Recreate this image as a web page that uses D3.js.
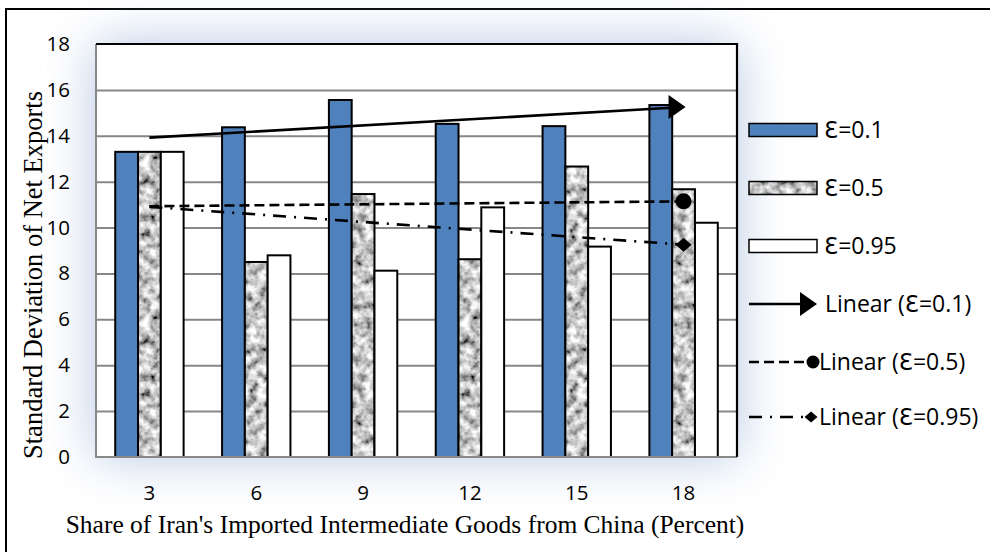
<!DOCTYPE html>
<html><head><meta charset="utf-8">
<script src="https://cdn.jsdelivr.net/npm/d3@7"></script>
<style>body{margin:0;background:#fff}svg{display:block}</style>
</head><body>
<svg id="c" width="990" height="552"></svg>
<script>
const categories = ["3","6","9","12","15","18"];
const seriesNames = ["Ɛ=0.1","Ɛ=0.5","Ɛ=0.95"];
const eps01 = [13.3, 14.37, 15.56, 14.52, 14.42, 15.34];
const eps05 = [13.3, 8.5, 11.46, 8.62, 12.66, 11.67];
const eps095 = [13.3, 8.79, 8.12, 10.88, 9.17, 10.21];
const yTicks = [0,2,4,6,8,10,12,14,16,18];
const trendNames = ["Linear (Ɛ=0.1)","Linear (Ɛ=0.5)","Linear (Ɛ=0.95)"];
const xTitle = "Share of Iran's Imported Intermediate Goods from China (Percent)";
const yTitle = "Standard Deviation of Net Exports";

const series = [eps01, eps05, eps095];
const svg = d3.select("#c");
const M = {l:96, r:737, t:44, b:457};
const defs = svg.append("defs");

// glow
const glow = defs.append("filter").attr("id","glow").attr("x","-40%").attr("y","-40%").attr("width","180%").attr("height","180%");
glow.append("feGaussianBlur").attr("stdDeviation",26);
// granite texture
const tex = defs.append("filter").attr("id","noise").attr("filterUnits","userSpaceOnUse")
  .attr("x",0).attr("y",0).attr("width",160).attr("height",160);
tex.append("feTurbulence").attr("type","fractalNoise").attr("baseFrequency","0.11").attr("numOctaves",3).attr("seed",7).attr("stitchTiles","stitch");
tex.append("feColorMatrix").attr("type","matrix")
  .attr("values","1.8 0 0 0 -0.33  1.8 0 0 0 -0.33  1.8 0 0 0 -0.33  0 0 0 0 1");
const pat = defs.append("pattern").attr("id","granite").attr("patternUnits","userSpaceOnUse")
  .attr("width",160).attr("height",160);
pat.append("rect").attr("width",160).attr("height",160).attr("filter","url(#noise)");

// outer border
svg.append("rect").attr("x",6).attr("y",9).attr("width",1000).attr("height",560)
  .attr("fill","none").attr("stroke","#000").attr("stroke-width",2);

// glow behind plot
svg.append("rect").attr("x",M.l).attr("y",M.t).attr("width",M.r-M.l).attr("height",M.b-M.t)
  .attr("fill","#b3c6e2").attr("filter","url(#glow)");
svg.append("rect").attr("x",M.l).attr("y",M.t).attr("width",M.r-M.l).attr("height",M.b-M.t)
  .attr("fill","#fff");

const x0 = d3.scaleBand().domain(categories).range([M.l,M.r]).paddingInner(0.36).paddingOuter(0.18);
const x1 = d3.scaleBand().domain(seriesNames).range([0,x0.bandwidth()]);
const y = d3.scaleLinear().domain([0,18]).range([M.b,M.t]);

// grid
const grid = svg.append("g").call(d3.axisLeft(y).tickValues(yTicks.slice(1,-1)).tickSize(-(M.r-M.l)).tickFormat(""))
  .attr("transform",`translate(${M.l},0)`);
grid.select(".domain").remove();
grid.selectAll("line").attr("stroke","#878787").attr("stroke-width",2);

// bars
const fills = ["#4f81bd","url(#granite)","#ffffff"];
series.forEach((s,si)=>{
  svg.append("g").selectAll("rect").data(s).join("rect")
    .attr("x",(d,i)=>x0(categories[i])+x1(seriesNames[si]))
    .attr("y",d=>y(d)).attr("width",x1.bandwidth()).attr("height",d=>y(0)-y(d))
    .attr("fill",fills[si]).attr("stroke","#000").attr("stroke-width",2);
});

// plot frame
svg.append("path").attr("d",`M${M.l},${M.t}V${M.b}H${M.r}`).attr("fill","none").attr("stroke","#888").attr("stroke-width",2);
svg.append("path").attr("d",`M${M.l},${M.t}H${M.r}V${M.b}`).attr("fill","none").attr("stroke","#000").attr("stroke-width",2.2);

// trendlines
function fit(s){
  const n=s.length, xs=s.map((d,i)=>i+1);
  const mx=d3.mean(xs), my=d3.mean(s);
  const b=d3.sum(xs.map((v,i)=>(v-mx)*(s[i]-my)))/d3.sum(xs.map(v=>(v-mx)**2));
  return [my+b*(1-mx), my+b*(n-mx)];
}
const cx = c=>x0(c)+x0.bandwidth()/2;
const dashes = [null,"10,5","13,8,2,8"];
function marker(g,k,px,py,s){
  if(k===0) g.append("path").attr("d",`M${px-15},${py-12}L${px+2},${py}L${px-15},${py+12}Z`).attr("fill","#000");
  if(k===1) g.append("circle").attr("cx",px).attr("cy",py).attr("r",s).attr("fill","#000");
  if(k===2) g.append("path").attr("d",`M${px},${py-s+1}L${px+s},${py}L${px},${py+s-1}L${px-s},${py}Z`).attr("fill","#000");
}
const tg = svg.append("g");
series.forEach((s,k)=>{
  const [a,b]=fit(s);
  const xa=cx(categories[0]), xb=cx(categories[categories.length-1]);
  const ex = k===0? xb-12 : xb;
  const yb0 = y(a)+(y(b)-y(a))*(ex-xa)/(xb-xa);
  tg.append("line").attr("x1",xa).attr("y1",y(a)).attr("x2",ex).attr("y2",yb0)
    .attr("stroke","#000").attr("stroke-width",2.6).attr("stroke-dasharray",dashes[k]);
  marker(tg,k,xb,y(b),8);
});

// axes labels
const fSans = "'Open Sans', 'DejaVu Sans', sans-serif";
const fSerif = "'Liberation Serif', 'DejaVu Serif', serif";
svg.append("g").selectAll("text").data(yTicks).join("text")
  .attr("x",70).attr("y",d=>y(d)+7).attr("text-anchor","end")
  .attr("font-family",fSans).attr("font-size",20.5).attr("fill","#000").text(d=>d);
svg.append("g").selectAll("text").data(categories).join("text")
  .attr("x",d=>cx(d)).attr("y",500).attr("text-anchor","middle")
  .attr("font-family",fSans).attr("font-size",20.5).attr("fill","#000").text(d=>d);
svg.append("text").attr("x",405).attr("y",533).attr("text-anchor","middle")
  .attr("font-family",fSerif).attr("font-size",25.5).text(xTitle);
svg.append("text").attr("transform","translate(42,275) rotate(-90)").attr("text-anchor","middle")
  .attr("font-family",fSerif).attr("font-size",26.5).text(yTitle);

// legend
const lg = svg.append("g");
const ly = [130,188,246,304,362,417];
seriesNames.forEach((n,i)=>{
  lg.append("rect").attr("x",749).attr("y",ly[i]-6.5).attr("width",68).attr("height",13)
    .attr("fill",fills[i]).attr("stroke","#000").attr("stroke-width",1.5);
  lg.append("text").attr("x",824).attr("y",ly[i]+8).attr("font-family",fSans).attr("font-size",23).text(n);
});
trendNames.forEach((n,k)=>{
  const yy=ly[3+k];
  const mx = k===0?815:(k===1?813:811);
  lg.append("line").attr("x1",749).attr("x2",k===0?mx-12:mx).attr("y1",yy).attr("y2",yy)
    .attr("stroke","#000").attr("stroke-width",2.5).attr("stroke-dasharray",dashes[k]);
  marker(lg,k,mx,yy,6.5);
  lg.append("text").attr("x",k===0?825:819).attr("y",yy+8).attr("font-family",fSans).attr("font-size",23).text(n);
});
</script>
</body></html>
